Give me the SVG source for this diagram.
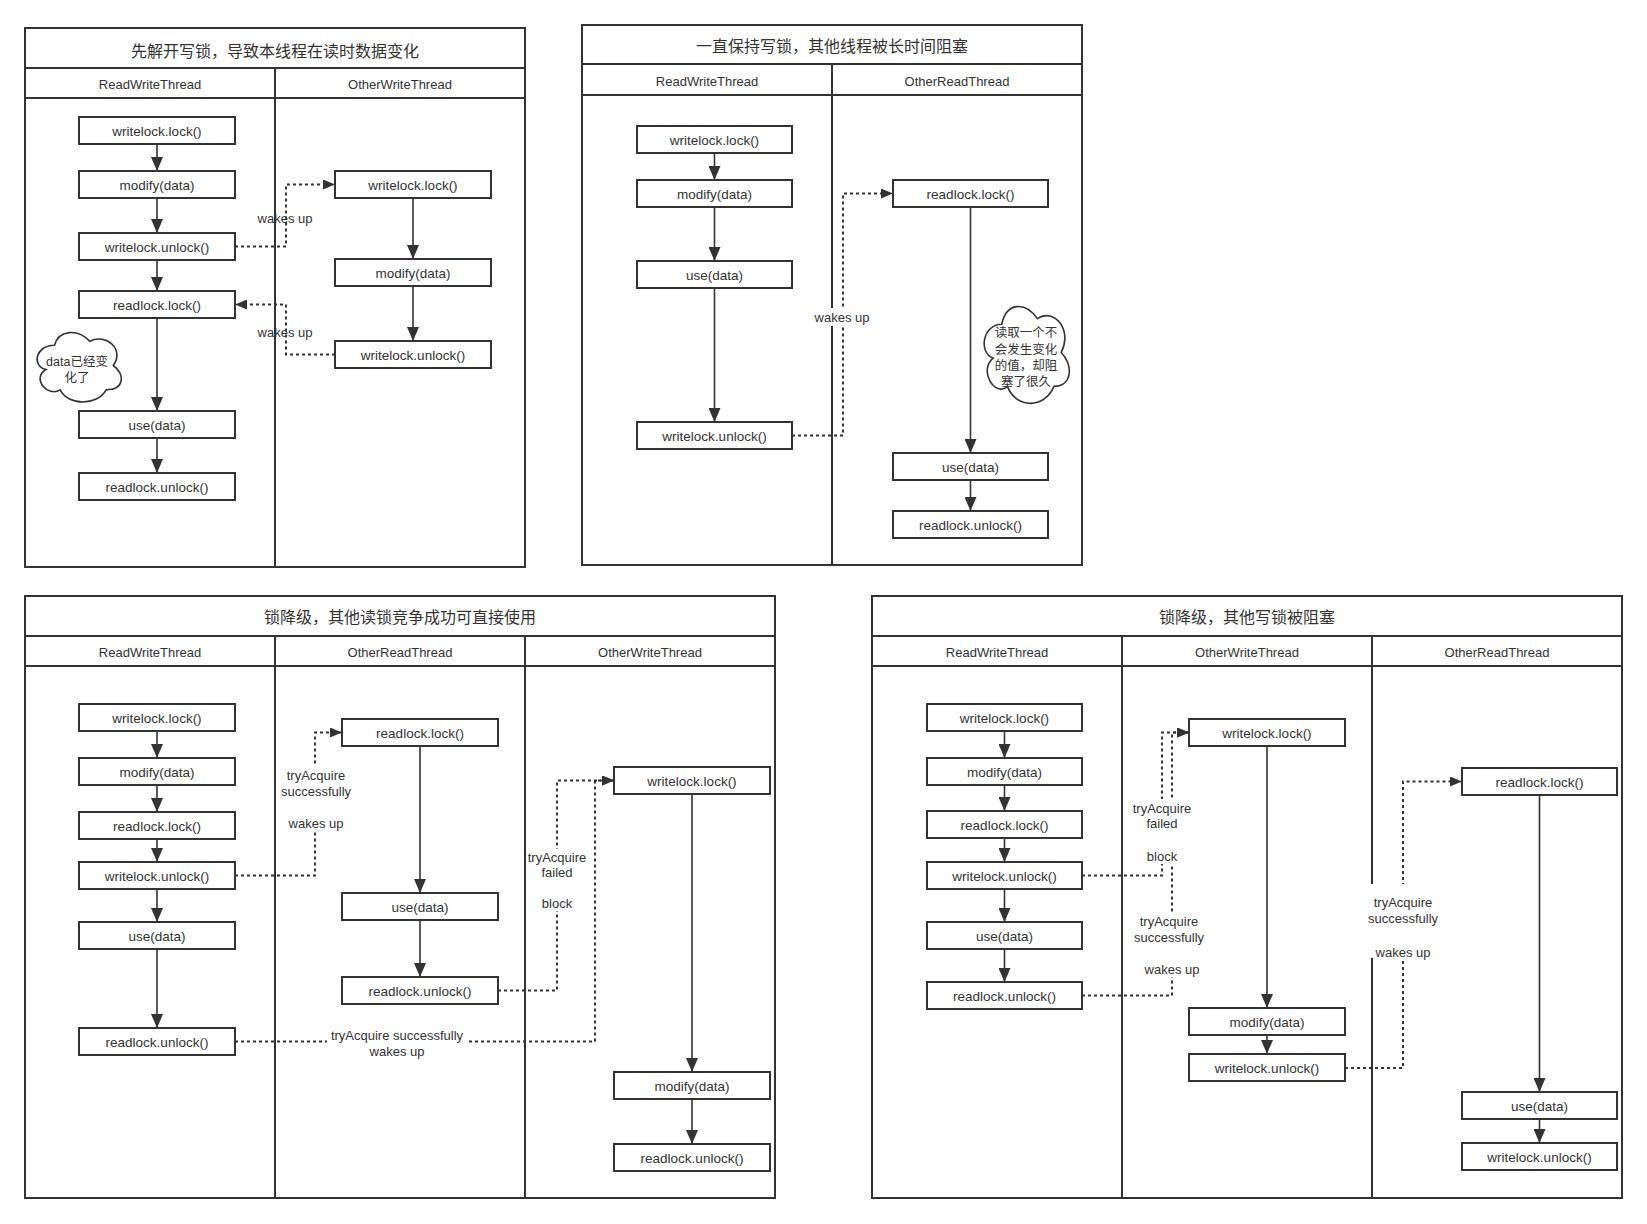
<svg xmlns="http://www.w3.org/2000/svg" width="1647" height="1224" viewBox="0 0 1647 1224">
<style>
.bg{fill:#fff}
.frame{fill:none;stroke:#333;stroke-width:2}
.box{fill:#fff;stroke:#333;stroke-width:2}
.cloud{fill:#fff;stroke:#333;stroke-width:1.6}
.t{font-family:"Liberation Sans","Noto Sans CJK SC",sans-serif;fill:#333;text-anchor:middle;dominant-baseline:central}
.bt{font-size:13.5px;transform:translate(0px,1px)}
.ht{font-size:13px}
.tt{font-size:16px}
.lt{font-size:13px}
.ct{font-size:12.5px}
.solid{fill:none;stroke:#333;stroke-width:1.6;marker-end:url(#ah)}
.dash{fill:none;stroke:#333;stroke-width:2;stroke-dasharray:3 3;marker-end:url(#ahd)}
.lbg{fill:#fff}
</style>
<defs>
<marker id="ah" markerUnits="userSpaceOnUse" viewBox="0 0 14 12" markerWidth="14" markerHeight="12" refX="14" refY="6" orient="auto"><path d="M0,0 L14,6 L0,12 Z" fill="#333"/></marker>
<marker id="ahd" markerUnits="userSpaceOnUse" viewBox="0 0 12 10" markerWidth="12" markerHeight="10" refX="12" refY="5" orient="auto"><path d="M0,0 L12,5 L0,10 Z" fill="#333"/></marker>
</defs>
<rect class="bg" x="0" y="0" width="1647" height="1224"/>

<!-- ===== Diagram 1 ===== -->
<g id="d1">
<g id="d1-frame">
<rect class="frame" x="25" y="28" width="500" height="539"/>
<path class="frame" d="M25,68 H525 M25,98 H525 M275,68 V567"/>
<text class="t tt" x="275" y="51">先解开写锁，导致本线程在读时数据变化</text>
<text class="t ht" x="150" y="84">ReadWriteThread</text>
<text class="t ht" x="400" y="84">OtherWriteThread</text>
</g>
<g id="d1-n1"><rect class="box" x="79" y="117" width="156" height="27"/><text class="t bt" x="157" y="130.5">writelock.lock()</text></g>
<g id="d1-n2"><rect class="box" x="79" y="171" width="156" height="27"/><text class="t bt" x="157" y="184.5">modify(data)</text></g>
<g id="d1-n3"><rect class="box" x="79" y="233" width="156" height="27"/><text class="t bt" x="157" y="246.5">writelock.unlock()</text></g>
<g id="d1-n4"><rect class="box" x="79" y="291" width="156" height="27"/><text class="t bt" x="157" y="304.5">readlock.lock()</text></g>
<g id="d1-n5"><rect class="box" x="79" y="411" width="156" height="27"/><text class="t bt" x="157" y="424.5">use(data)</text></g>
<g id="d1-n6"><rect class="box" x="79" y="473" width="156" height="27"/><text class="t bt" x="157" y="486.5">readlock.unlock()</text></g>
<g id="d1-n7"><rect class="box" x="335" y="171" width="156" height="27"/><text class="t bt" x="413" y="184.5">writelock.lock()</text></g>
<g id="d1-n8"><rect class="box" x="335" y="259" width="156" height="27"/><text class="t bt" x="413" y="272.5">modify(data)</text></g>
<g id="d1-n9"><rect class="box" x="335" y="341" width="156" height="27"/><text class="t bt" x="413" y="354.5">writelock.unlock()</text></g>
<g id="d1-cloud">
<path class="cloud" d="M54.5,345.25 C35.7,345.25 31,365.5 46.04,369.55 C31,378.46 47.92,397.9 60.14,389.8 C68.6,406 96.8,406 106.2,389.8 C125,389.8 125,373.6 113.25,365.5 C125,349.3 106.2,333.1 89.75,341.2 C78,329.05 59.2,329.05 54.5,345.25 Z"/>
<text class="t ct" x="77" y="362">data已经变</text>
<text class="t ct" x="77" y="378">化了</text>
</g>
<g id="d1-edges">
<path class="solid" d="M157,144 V171"/>
<path class="solid" d="M157,198 V233"/>
<path class="solid" d="M157,260 V291"/>
<path class="solid" d="M157,318 V411"/>
<path class="solid" d="M157,438 V473"/>
<path class="solid" d="M413,198 V259"/>
<path class="solid" d="M413,286 V341"/>
<path class="dash" d="M235,246.5 H286 V184.5 H335"/>
<path class="dash" d="M335,354.5 H286 V304.5 H235"/>
<text class="t lt" x="285" y="218">wakes up</text>
<text class="t lt" x="285" y="332">wakes up</text>
</g>
</g>

<!-- ===== Diagram 2 ===== -->
<g id="d2">
<g id="d2-frame">
<rect class="frame" x="582" y="25" width="500" height="540"/>
<path class="frame" d="M582,64 H1082 M582,95 H1082 M832,64 V565"/>
<text class="t tt" x="832" y="46">一直保持写锁，其他线程被长时间阻塞</text>
<text class="t ht" x="707" y="81">ReadWriteThread</text>
<text class="t ht" x="957" y="81">OtherReadThread</text>
</g>
<g id="d2-n1"><rect class="box" x="637" y="126" width="155" height="27"/><text class="t bt" x="714.5" y="139.5">writelock.lock()</text></g>
<g id="d2-n2"><rect class="box" x="637" y="180" width="155" height="27"/><text class="t bt" x="714.5" y="193.5">modify(data)</text></g>
<g id="d2-n3"><rect class="box" x="637" y="261" width="155" height="27"/><text class="t bt" x="714.5" y="274.5">use(data)</text></g>
<g id="d2-n4"><rect class="box" x="637" y="422" width="155" height="27"/><text class="t bt" x="714.5" y="435.5">writelock.unlock()</text></g>
<g id="d2-n5"><rect class="box" x="893" y="180" width="155" height="27"/><text class="t bt" x="970.5" y="193.5">readlock.lock()</text></g>
<g id="d2-n6"><rect class="box" x="893" y="453" width="155" height="27"/><text class="t bt" x="970.5" y="466.5">use(data)</text></g>
<g id="d2-n7"><rect class="box" x="893" y="511" width="155" height="27"/><text class="t bt" x="970.5" y="524.5">readlock.unlock()</text></g>
<g id="d2-cloud">
<path class="cloud" d="M1001.75,324.25 C982.75,324.25 978,352.5 993.2,358.15 C978,370.58 995.1,397.7 1007.45,386.4 C1016,409 1044.5,409 1054,386.4 C1073,386.4 1073,363.8 1061.13,352.5 C1073,329.9 1054,307.3 1037.38,318.6 C1025.5,301.65 1006.5,301.65 1001.75,324.25 Z"/>
<text class="t ct" x="1026" y="333">读取一个不</text>
<text class="t ct" x="1026" y="349.5">会发生变化</text>
<text class="t ct" x="1026" y="366">的值，却阻</text>
<text class="t ct" x="1026" y="382">塞了很久</text>
</g>
<g id="d2-edges">
<path class="solid" d="M714.5,153 V180"/>
<path class="solid" d="M714.5,207 V261"/>
<path class="solid" d="M714.5,288 V422"/>
<path class="solid" d="M970.5,207 V453"/>
<path class="solid" d="M970.5,480 V511"/>
<path class="dash" d="M792,435.5 H843 V193.5 H893"/>
<rect class="lbg" x="814" y="308" width="57" height="18"/>
<text class="t lt" x="842" y="317">wakes up</text>
</g>
</g>

<!-- ===== Diagram 3 ===== -->
<g id="d3">
<g id="d3-frame">
<rect class="frame" x="25" y="596" width="750" height="602"/>
<path class="frame" d="M25,636 H775 M25,666 H775 M275,636 V1198 M525,636 V1198"/>
<text class="t tt" x="400" y="617">锁降级，其他读锁竞争成功可直接使用</text>
<text class="t ht" x="150" y="652">ReadWriteThread</text>
<text class="t ht" x="400" y="652">OtherReadThread</text>
<text class="t ht" x="650" y="652">OtherWriteThread</text>
</g>
<g id="d3-n1"><rect class="box" x="79" y="704" width="156" height="27"/><text class="t bt" x="157" y="717.5">writelock.lock()</text></g>
<g id="d3-n2"><rect class="box" x="79" y="758" width="156" height="27"/><text class="t bt" x="157" y="771.5">modify(data)</text></g>
<g id="d3-n3"><rect class="box" x="79" y="812" width="156" height="27"/><text class="t bt" x="157" y="825.5">readlock.lock()</text></g>
<g id="d3-n4"><rect class="box" x="79" y="862" width="156" height="27"/><text class="t bt" x="157" y="875.5">writelock.unlock()</text></g>
<g id="d3-n5"><rect class="box" x="79" y="922" width="156" height="27"/><text class="t bt" x="157" y="935.5">use(data)</text></g>
<g id="d3-n6"><rect class="box" x="79" y="1028" width="156" height="27"/><text class="t bt" x="157" y="1041.5">readlock.unlock()</text></g>
<g id="d3-n7"><rect class="box" x="342" y="719" width="156" height="27"/><text class="t bt" x="420" y="732.5">readlock.lock()</text></g>
<g id="d3-n8"><rect class="box" x="342" y="893" width="156" height="27"/><text class="t bt" x="420" y="906.5">use(data)</text></g>
<g id="d3-n9"><rect class="box" x="342" y="977" width="156" height="27"/><text class="t bt" x="420" y="990.5">readlock.unlock()</text></g>
<g id="d3-n10"><rect class="box" x="614" y="767" width="156" height="27"/><text class="t bt" x="692" y="780.5">writelock.lock()</text></g>
<g id="d3-n11"><rect class="box" x="614" y="1072" width="156" height="27"/><text class="t bt" x="692" y="1085.5">modify(data)</text></g>
<g id="d3-n12"><rect class="box" x="614" y="1144" width="156" height="27"/><text class="t bt" x="692" y="1157.5">readlock.unlock()</text></g>
<g id="d3-edges">
<path class="solid" d="M157,731 V758"/>
<path class="solid" d="M157,785 V812"/>
<path class="solid" d="M157,839 V862"/>
<path class="solid" d="M157,889 V922"/>
<path class="solid" d="M157,949 V1028"/>
<path class="solid" d="M420,746 V893"/>
<path class="solid" d="M420,920 V977"/>
<path class="solid" d="M692,794 V1072"/>
<path class="solid" d="M692,1099 V1144"/>
<path class="dash" d="M235,875.5 H315 V732.5 H342"/>
<path class="dash" d="M498,990.5 H557 V780.5 H614"/>
<path class="dash" d="M235,1041.5 H595 V780.5 H614"/>
<rect class="lbg" x="280" y="766" width="72" height="65"/>
<text class="t lt" x="316" y="775">tryAcquire</text>
<text class="t lt" x="316" y="791">successfully</text>
<text class="t lt" x="316" y="823">wakes up</text>
<rect class="lbg" x="528" y="849" width="58" height="62"/>
<text class="t lt" x="557" y="857">tryAcquire</text>
<text class="t lt" x="557" y="872">failed</text>
<text class="t lt" x="557" y="903">block</text>
<rect class="lbg" x="327" y="1027" width="140" height="32"/>
<text class="t lt" x="397" y="1035">tryAcquire successfully</text>
<text class="t lt" x="397" y="1051">wakes up</text>
</g>
</g>

<!-- ===== Diagram 4 ===== -->
<g id="d4">
<g id="d4-frame">
<rect class="frame" x="872" y="596" width="750" height="602"/>
<path class="frame" d="M872,636 H1622 M872,666 H1622 M1122,636 V1198 M1372,636 V1198"/>
<text class="t tt" x="1247" y="617">锁降级，其他写锁被阻塞</text>
<text class="t ht" x="997" y="652">ReadWriteThread</text>
<text class="t ht" x="1247" y="652">OtherWriteThread</text>
<text class="t ht" x="1497" y="652">OtherReadThread</text>
</g>
<g id="d4-n1"><rect class="box" x="927" y="704" width="155" height="27"/><text class="t bt" x="1004.5" y="717.5">writelock.lock()</text></g>
<g id="d4-n2"><rect class="box" x="927" y="758" width="155" height="27"/><text class="t bt" x="1004.5" y="771.5">modify(data)</text></g>
<g id="d4-n3"><rect class="box" x="927" y="811" width="155" height="27"/><text class="t bt" x="1004.5" y="824.5">readlock.lock()</text></g>
<g id="d4-n4"><rect class="box" x="927" y="862" width="155" height="27"/><text class="t bt" x="1004.5" y="875.5">writelock.unlock()</text></g>
<g id="d4-n5"><rect class="box" x="927" y="922" width="155" height="27"/><text class="t bt" x="1004.5" y="935.5">use(data)</text></g>
<g id="d4-n6"><rect class="box" x="927" y="982" width="155" height="27"/><text class="t bt" x="1004.5" y="995.5">readlock.unlock()</text></g>
<g id="d4-n7"><rect class="box" x="1189" y="719" width="156" height="27"/><text class="t bt" x="1267" y="732.5">writelock.lock()</text></g>
<g id="d4-n8"><rect class="box" x="1189" y="1008" width="156" height="27"/><text class="t bt" x="1267" y="1021.5">modify(data)</text></g>
<g id="d4-n9"><rect class="box" x="1189" y="1054" width="156" height="27"/><text class="t bt" x="1267" y="1067.5">writelock.unlock()</text></g>
<g id="d4-n10"><rect class="box" x="1462" y="768" width="155" height="27"/><text class="t bt" x="1539.5" y="781.5">readlock.lock()</text></g>
<g id="d4-n11"><rect class="box" x="1462" y="1092" width="155" height="27"/><text class="t bt" x="1539.5" y="1105.5">use(data)</text></g>
<g id="d4-n12"><rect class="box" x="1462" y="1143" width="155" height="27"/><text class="t bt" x="1539.5" y="1156.5">writelock.unlock()</text></g>
<g id="d4-edges">
<path class="solid" d="M1004.5,731 V758"/>
<path class="solid" d="M1004.5,785 V811"/>
<path class="solid" d="M1004.5,838 V862"/>
<path class="solid" d="M1004.5,889 V922"/>
<path class="solid" d="M1004.5,949 V982"/>
<path class="solid" d="M1267,746 V1008"/>
<path class="solid" d="M1267,1035 V1054"/>
<path class="solid" d="M1539.5,795 V1092"/>
<path class="solid" d="M1539.5,1119 V1143"/>
<path class="dash" d="M1082,875.5 H1162 V732.5 H1189"/>
<path class="dash" d="M1082,995.5 H1172 V732.5 H1189"/>
<path class="dash" d="M1345,1068 H1403 V781.5 H1462"/>
<rect class="lbg" x="1132" y="799" width="60" height="65"/>
<text class="t lt" x="1162" y="808">tryAcquire</text>
<text class="t lt" x="1162" y="823">failed</text>
<text class="t lt" x="1162" y="856">block</text>
<rect class="lbg" x="1134" y="912" width="72" height="65"/>
<text class="t lt" x="1169" y="921">tryAcquire</text>
<text class="t lt" x="1169" y="937">successfully</text>
<text class="t lt" x="1172" y="969">wakes up</text>
<rect class="lbg" x="1367" y="884" width="72" height="74"/>
<text class="t lt" x="1403" y="902">tryAcquire</text>
<text class="t lt" x="1403" y="918">successfully</text>
<text class="t lt" x="1403" y="952">wakes up</text>
</g>
</g>
</svg>
